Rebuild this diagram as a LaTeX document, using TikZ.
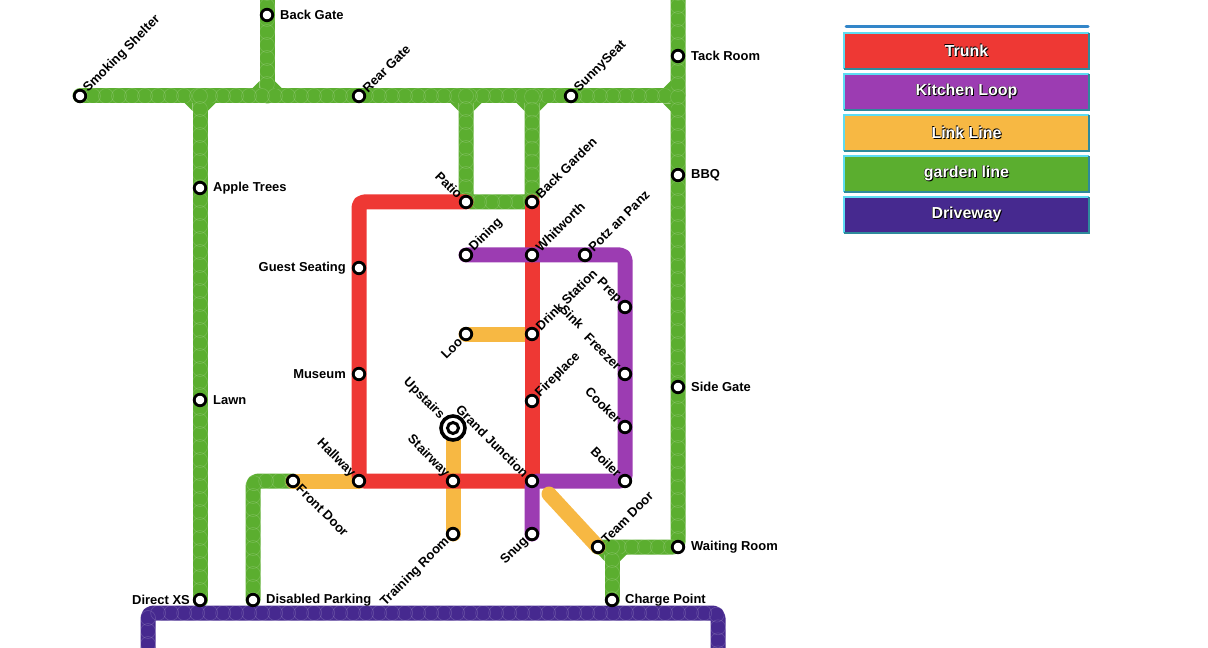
\documentclass[tikz,border=0pt]{standalone}
\usepackage{fontspec}
\setmainfont{Liberation Sans}
\usetikzlibrary{decorations.markings}
\pgfdeclarelayer{bg}
\pgfsetlayers{bg,main}
\definecolor{trunk}{HTML}{EE3834}
\definecolor{kitchen}{HTML}{9C3CB2}
\definecolor{linkc}{HTML}{F7B843}
\definecolor{garden}{HTML}{5BAE2F}
\definecolor{drive}{HTML}{46298F}
\definecolor{bdlight}{HTML}{5EDCF2}
\definecolor{bddark}{HTML}{2E8A9C}
\definecolor{topblue}{HTML}{3386C9}
\newcommand\shadowtext[1]{\leavevmode\rlap{\color{black}\kern1pt\raisebox{-1pt}{#1}}\rlap{\color{black}\kern-0.5pt\raisebox{0.4pt}{#1}}\color{white}#1}
\begin{document}
\begin{tikzpicture}[x=1bp,y=-1bp,
 metro/.style={line width=15bp, line cap=round, line join=round, rounded corners=5bp},
 scallop/.style={postaction={decorate,decoration={markings,mark=between positions 0 and 1 step 13bp with {\draw[white,opacity=.16,line width=.6bp] (0,0) circle (7.5bp);}}}},
 fillet/.style={fill=garden, draw=none},
 stn/.style={circle, draw=black, fill=white, line width=2.8bp, minimum size=11.5bp, inner sep=0pt},
 lab/.style={font=\bfseries\fontsize{13}{15}\selectfont, inner sep=1bp, text=black},
 rt/.style={lab,anchor=west},
 lt/.style={lab,anchor=east},
 ur/.style={lab,rotate=45,anchor=west},
 ul/.style={lab,rotate=-45,anchor=east},
 lr/.style={lab,rotate=-45,anchor=west},
 ll/.style={lab,rotate=45,anchor=east},
 legbox/.style={minimum width=245bp, minimum height=36bp, inner sep=0pt, font=\bfseries\fontsize{16}{19}\selectfont},
]
\useasboundingbox (0,0) rectangle (1208,648);
\clip (0,0) rectangle (1208,648);

% ---------- stations ----------
\node[stn] (backgate) at (267,15) {};
\node[stn] (smoking) at (80,96) {};
\node[stn] (rear) at (359,96) {};
\node[stn] (sunny) at (571,96) {};
\node[stn] (tack) at (678,56) {};
\node[stn] (bbq) at (678,175) {};
\node[stn] (side) at (678,387) {};
\node[stn] (waiting) at (678,547) {};
\node[stn] (apple) at (200,188) {};
\node[stn] (lawn) at (200,400) {};
\node[stn] (directxs) at (200,600) {};
\node[stn] (disabled) at (253,600) {};
\node[stn] (charge) at (612,600) {};
\node[stn] (guest) at (359,268) {};
\node[stn] (museum) at (359,374) {};
\node[stn] (patio) at (466,202) {};
\node[stn] (backgarden) at (532,202) {};
\node[stn] (dining) at (466,255) {};
\node[stn] (whitworth) at (532,255) {};
\node[stn] (potz) at (585,255) {};
\node[stn] (drink) at (532,334) {};
\node[stn] (loo) at (466,334) {};
\node[stn] (fireplace) at (532,401) {};
\node[stn] (prep) at (625,307) {};
\node[stn] (freezer) at (625,374) {};
\node[stn] (cooker) at (625,427) {};
\node[stn] (boiler) at (625,481) {};
\node[stn] (grandj) at (532,481) {};
\node[stn] (stairway) at (453,481) {};
\node[stn] (hallway) at (359,481) {};
\node[stn] (frontdoor) at (293,481) {};
\node[stn] (training) at (453,534) {};
\node[stn] (snug) at (532,534) {};
\node[stn] (teamdoor) at (598,547) {};
\node[circle, draw=black, fill=white, line width=3.6bp, minimum size=24bp, inner sep=0pt] (upstairs) at (453,428) {};
\draw[black, fill=white, line width=3bp] (upstairs.center) circle (5.5bp);

% ---------- corner coordinates ----------
\coordinate (gtopa) at (267,-20);
\coordinate (gja) at (267,96);
\coordinate (gjb) at (678,96);
\coordinate (gtopb) at (678,-20);
\coordinate (gjc) at (200,96);
\coordinate (gjd) at (466,96);
\coordinate (gje) at (532,96);
\coordinate (gjf) at (612,547);
\coordinate (gcg) at (253,481);
\coordinate (rc) at (359,202);
\coordinate (kc) at (625,255);
\coordinate (ys) at (549,494);
\coordinate (da) at (148,670);
\coordinate (db) at (148,613);
\coordinate (dc) at (718,613);
\coordinate (dd) at (718,670);

% ---------- lines ----------
\begin{pgfonlayer}{bg}
\draw[metro,garden,scallop] (gtopa) -- (backgate.center) -- (gja);
\draw[metro,garden,scallop] (smoking.center) -- (rear.center) -- (sunny.center) -- (gjb);
\draw[metro,garden,scallop] (gtopb) -- (tack.center) -- (bbq.center) -- (side.center) -- (waiting.center) -- (teamdoor.center);
\draw[metro,garden,scallop] (gjf) -- (charge.center);
\draw[metro,garden,scallop] (gjc) -- (apple.center) -- (lawn.center) -- (directxs.center);
\draw[metro,garden,scallop] (gjd) -- (patio.center) -- (backgarden.center) -- (gje);
\draw[metro,garden,scallop] (disabled.center) -- (gcg) -- (frontdoor.center);
% junction fillets
\fill[fillet] ([shift={(-15.5,7)}]gjc) -- ([shift={(-7.5,7)}]gjc) -- ([shift={(-7.5,15)}]gjc) -- cycle;
\fill[fillet] ([shift={(15.5,7)}]gjc) -- ([shift={(7.5,7)}]gjc) -- ([shift={(7.5,15)}]gjc) -- cycle;
\fill[fillet] ([shift={(-15.5,-7)}]gja) -- ([shift={(-7.5,-7)}]gja) -- ([shift={(-7.5,-15)}]gja) -- cycle;
\fill[fillet] ([shift={(15.5,-7)}]gja) -- ([shift={(7.5,-7)}]gja) -- ([shift={(7.5,-15)}]gja) -- cycle;
\fill[fillet] ([shift={(-15.5,7)}]gjd) -- ([shift={(-7.5,7)}]gjd) -- ([shift={(-7.5,15)}]gjd) -- cycle;
\fill[fillet] ([shift={(15.5,7)}]gjd) -- ([shift={(7.5,7)}]gjd) -- ([shift={(7.5,15)}]gjd) -- cycle;
\fill[fillet] ([shift={(-15.5,7)}]gje) -- ([shift={(-7.5,7)}]gje) -- ([shift={(-7.5,15)}]gje) -- cycle;
\fill[fillet] ([shift={(15.5,7)}]gje) -- ([shift={(7.5,7)}]gje) -- ([shift={(7.5,15)}]gje) -- cycle;
\fill[fillet] ([shift={(-7,-15.5)}]gjb) -- ([shift={(-7,-7.5)}]gjb) -- ([shift={(-15,-7.5)}]gjb) -- cycle;
\fill[fillet] ([shift={(-7,15.5)}]gjb) -- ([shift={(-7,7.5)}]gjb) -- ([shift={(-15,7.5)}]gjb) -- cycle;
\fill[fillet] ([shift={(-14,7)}]gjf) -- ([shift={(-7.5,7)}]gjf) -- ([shift={(-7.5,14)}]gjf) -- cycle;
\fill[fillet] ([shift={(15,7)}]gjf) -- ([shift={(7.5,7)}]gjf) -- ([shift={(7.5,14.5)}]gjf) -- cycle;
\draw[metro,drive,scallop] (da) -- (db) -- (dc) -- (dd);
\draw[metro,linkc] (frontdoor.center) -- (hallway.center);
\draw[metro,linkc] (loo.center) -- (drink.center);
\draw[metro,linkc] (upstairs.center) -- (stairway.center) -- (training.center);
\draw[metro,trunk] (patio.center) -- (rc) -- (guest.center) -- (museum.center) -- (hallway.center) -- (stairway.center) -- (grandj.center);
\draw[metro,trunk] (backgarden.center) -- (whitworth.center) -- (drink.center) -- (fireplace.center) -- (grandj.center);
\draw[metro,kitchen] (dining.center) -- (whitworth.center) -- (potz.center) -- (kc) -- (prep.center) -- (freezer.center) -- (cooker.center) -- (boiler.center) -- (grandj.center) -- (snug.center);
\draw[metro,linkc] (ys) -- (teamdoor.center);
\end{pgfonlayer}

% ---------- labels ----------
\node[rt] (backgate-t) at ([shift={(12,0)}]backgate.center) {Back Gate};
\node[ur] (smoking-t) at ([shift={(5,-5)}]smoking.center) {Smoking Shelter};
\node[ur] (rear-t) at ([shift={(5,-5)}]rear.center) {Rear Gate};
\node[ur] (sunny-t) at ([shift={(5,-5)}]sunny.center) {SunnySeat};
\node[rt] (tack-t) at ([shift={(12,0)}]tack.center) {Tack Room};
\node[rt] (bbq-t) at ([shift={(12,0)}]bbq.center) {BBQ};
\node[rt] (side-t) at ([shift={(12,0)}]side.center) {Side Gate};
\node[rt] (waiting-t) at ([shift={(12,0)}]waiting.center) {Waiting Room};
\node[rt] (apple-t) at ([shift={(12,0)}]apple.center) {Apple Trees};
\node[rt] (lawn-t) at ([shift={(12,0)}]lawn.center) {Lawn};
\node[lt] (directxs-t) at ([shift={(-9,0)}]directxs.center) {Direct XS};
\node[rt] (disabled-t) at ([shift={(12,0)}]disabled.center) {Disabled Parking};
\node[rt] (charge-t) at ([shift={(12,0)}]charge.center) {Charge Point};
\node[lt] (guest-t) at ([shift={(-12,0)}]guest.center) {Guest Seating};
\node[lt] (museum-t) at ([shift={(-12,0)}]museum.center) {Museum};
\node[ul] (patio-t) at ([shift={(-5,-5)}]patio.center) {Patio};
\node[ur] (backgarden-t) at ([shift={(5,-5)}]backgarden.center) {Back Garden};
\node[ur] (dining-t) at ([shift={(5,-5)}]dining.center) {Dining};
\node[ur] (whitworth-t) at ([shift={(5,-5)}]whitworth.center) {Whitworth};
\node[ur] (potz-t) at ([shift={(5,-5)}]potz.center) {Potz an Panz};
\node[ur] (drink-t) at ([shift={(5,-5)}]drink.center) {Drink Station};
\node[lab,rotate=-45] (sink-t) at (572,317) {Sink};
\node[ll] (loo-t) at ([shift={(-5,5)}]loo.center) {Loo};
\node[ur] (fireplace-t) at ([shift={(5,-5)}]fireplace.center) {Fireplace};
\node[ul] (prep-t) at ([shift={(-5,-5)}]prep.center) {Prep};
\node[ul] (freezer-t) at ([shift={(-5,-5)}]freezer.center) {Freezer};
\node[ul] (cooker-t) at ([shift={(-5,-5)}]cooker.center) {Cooker};
\node[ul] (boiler-t) at ([shift={(-5,-5)}]boiler.center) {Boiler};
\node[ul] (grandj-t) at ([shift={(-5,-5)}]grandj.center) {Grand Junction};
\node[ul] (stairway-t) at ([shift={(-5,-5)}]stairway.center) {Stairway};
\node[ul] (hallway-t) at ([shift={(-5,-5)}]hallway.center) {Hallway};
\node[lr] (frontdoor-t) at ([shift={(5,5)}]frontdoor.center) {Front Door};
\node[ll] (training-t) at ([shift={(-5,5)}]training.center) {Training Room};
\node[ll] (snug-t) at ([shift={(-5,5)}]snug.center) {Snug};
\node[ur] (teamdoor-t) at ([shift={(5,-5)}]teamdoor.center) {Team Door};
\node[ul] (upstairs-t) at ([shift={(-10,-10)}]upstairs.center) {Upstairs};

% ---------- legend ----------
\coordinate (tba) at (846,27);
\coordinate (tbb) at (1088,27);
\draw[topblue, line width=3bp, line cap=round] (tba) -- (tbb);
\foreach \nm/\yy/\cc/\tt in {lg1/51/trunk/Trunk, lg2/92/kitchen/Kitchen Loop, lg3/133/linkc/Link Line, lg4/174/garden/garden line, lg5/215/drive/Driveway}{
  \node[legbox, fill=\cc] (\nm) at (966.5,\yy) {\shadowtext{\tt}};
  \draw[bdlight, line width=2.5bp] (\nm.south west) -- (\nm.north west) -- (\nm.north east);
  \draw[bddark, line width=2.5bp] (\nm.north east) -- (\nm.south east) -- (\nm.south west);
}
\end{tikzpicture}
\end{document}
